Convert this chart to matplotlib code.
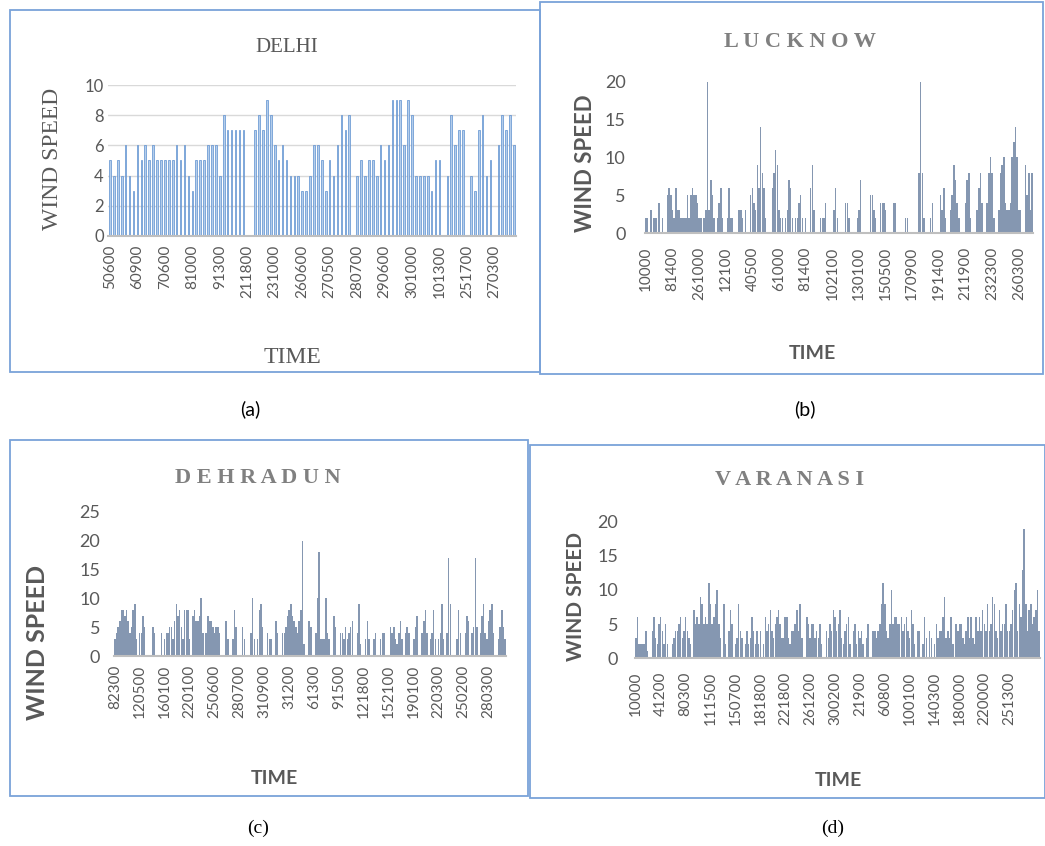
import matplotlib
matplotlib.use("Agg")
import matplotlib.pyplot as plt
from matplotlib.patches import Rectangle
import numpy as np

# hourly wind speed per station (gaps = no reading)
delhi_speed = [5, 4, 5, 4, 6, 4, 3, 6, 5, 6, 5, 6, 5, 5, 5, 5, 5, 6, 5, 6,
               4, 3, 5, 5, 5, 6, 6, 6, 4, 8, 7, 7, 7, 7, 7, 0, 0, 7, 8, 7,
               9, 8, 6, 5, 6, 5, 4, 4, 4, 3, 3, 4, 6, 6, 5, 3, 5, 4, 6, 8,
               7, 8, 0, 4, 5, 4, 5, 5, 4, 6, 5, 6, 9, 9, 9, 6, 9, 8, 4, 4,
               4, 4, 3, 5, 5, 0, 4, 8, 6, 7, 7, 0, 4, 3, 7, 8, 4, 5, 0, 6,
               8, 7, 8, 6]
delhi_ticks = ["50600", "60900", "70600", "81000", "91300", "211800", "231000",
               "260600", "270500", "280700", "290600", "301000", "101300",
               "251700", "270300"]

lucknow_speed = [2, 2, 0, 3, 0, 2, 2, 0, 4, 0, 2, 0, 0, 5, 6, 5, 3, 2, 6, 3,
                 3, 2, 2, 2, 2, 5, 2, 5, 6, 5, 5, 4, 2, 2, 0, 2, 3, 20, 3, 7,
                 5, 2, 0, 2, 4, 6, 2, 0, 0, 2, 6, 2, 2, 0, 0, 0, 3, 3, 2, 0,
                 3, 0, 0, 5, 6, 4, 3, 9, 6, 14, 8, 6, 2, 0, 0, 0, 6, 8, 11, 9,
                 3, 2, 2, 0, 2, 3, 7, 6, 2, 0, 2, 2, 4, 5, 2, 0, 2, 0, 0, 6,
                 9, 3, 0, 0, 0, 2, 2, 2, 4, 0, 0, 0, 0, 3, 6, 2, 0, 0, 0, 0,
                 4, 4, 2, 0, 0, 0, 0, 2, 3, 7, 0, 0, 0, 0, 0, 5, 5, 3, 2, 0,
                 0, 4, 4, 4, 3, 0, 0, 0, 0, 4, 4, 0, 0, 0, 0, 0, 2, 2, 0, 0,
                 0, 0, 0, 0, 8, 20, 8, 2, 0, 0, 0, 2, 4, 0, 0, 0, 0, 5, 3, 6,
                 2, 0, 0, 3, 5, 9, 7, 4, 2, 0, 0, 0, 4, 7, 8, 2, 0, 0, 0, 3,
                 6, 8, 4, 0, 0, 4, 8, 10, 8, 2, 0, 0, 3, 8, 9, 10, 4, 3, 3, 4,
                 10, 12, 14, 10, 3, 3, 0, 0, 9, 5, 8, 3, 8]
lucknow_ticks = ["10000", "81400", "261000", "12100", "40500", "61000", "81400",
                 "102100", "130100", "150500", "170900", "191400", "211900",
                 "232300", "260300"]

dehradun_speed = [3, 4, 5, 6, 8, 8, 7, 8, 6, 4, 5, 8, 9, 3, 0, 4, 4, 7, 5, 0,
                  0, 0, 0, 5, 4, 0, 0, 0, 4, 0, 3, 4, 4, 5, 5, 3, 6, 9, 7, 8,
                  5, 3, 8, 8, 8, 3, 0, 7, 8, 6, 6, 7, 10, 4, 0, 4, 7, 6, 6, 5,
                  4, 5, 5, 4, 0, 0, 0, 6, 3, 0, 0, 3, 8, 5, 0, 0, 0, 5, 3, 0,
                  0, 0, 4, 10, 3, 0, 3, 8, 9, 5, 0, 0, 4, 3, 3, 0, 0, 6, 4, 0,
                  0, 4, 4, 5, 7, 8, 9, 7, 6, 5, 4, 6, 8, 20, 2, 0, 0, 6, 5, 0,
                  0, 4, 10, 18, 3, 3, 3, 10, 4, 3, 0, 0, 7, 5, 0, 0, 4, 4, 3, 5,
                  3, 4, 5, 6, 0, 0, 4, 9, 2, 0, 0, 3, 6, 3, 0, 0, 3, 4, 0, 0,
                  3, 4, 4, 0, 0, 0, 5, 4, 5, 3, 2, 4, 6, 3, 0, 4, 5, 4, 0, 0,
                  3, 5, 7, 0, 0, 4, 6, 8, 4, 0, 3, 4, 8, 3, 0, 3, 4, 9, 3, 0,
                  4, 17, 9, 0, 0, 0, 3, 8, 4, 0, 0, 4, 7, 6, 0, 4, 5, 17, 5, 0,
                  4, 7, 9, 4, 3, 6, 8, 9, 4, 0, 0, 3, 5, 8, 5, 3]
dehradun_ticks = ["82300", "120500", "160100", "220100", "250600", "280700",
                  "310900", "31200", "61300", "91500", "121800", "152100",
                  "190100", "220300", "250200", "280300"]

varanasi_speed = [3, 6, 2, 2, 2, 2, 4, 1, 0, 0, 4, 6, 3, 2, 5, 6, 4, 2, 5, 2,
                  0, 0, 2, 3, 4, 4, 5, 6, 3, 4, 6, 4, 3, 2, 0, 7, 5, 6, 5, 9,
                  8, 5, 6, 5, 11, 8, 5, 6, 8, 10, 5, 3, 0, 8, 2, 0, 4, 7, 5, 0,
                  2, 3, 8, 4, 3, 0, 2, 4, 2, 3, 6, 4, 2, 4, 2, 4, 0, 2, 6, 4,
                  5, 7, 4, 3, 5, 6, 7, 5, 3, 3, 6, 6, 3, 2, 4, 4, 5, 7, 4, 8,
                  3, 0, 0, 6, 5, 3, 5, 5, 3, 4, 3, 5, 2, 0, 0, 4, 3, 5, 4, 7,
                  6, 4, 5, 7, 3, 2, 4, 5, 6, 2, 0, 4, 5, 2, 4, 3, 4, 2, 0, 3,
                  5, 0, 0, 4, 4, 3, 4, 5, 8, 11, 8, 4, 3, 5, 10, 5, 6, 6, 5, 5,
                  6, 4, 5, 6, 4, 3, 7, 5, 2, 0, 4, 4, 0, 2, 6, 3, 0, 4, 3, 0,
                  2, 5, 3, 4, 4, 6, 9, 3, 4, 3, 6, 2, 0, 5, 4, 5, 5, 3, 2, 4,
                  6, 3, 6, 3, 2, 6, 4, 6, 4, 7, 5, 4, 8, 4, 5, 9, 8, 4, 3, 7,
                  4, 5, 5, 8, 4, 4, 5, 7, 10, 11, 4, 8, 6, 13, 19, 8, 4, 7, 8, 5,
                  6, 7, 10, 4]
varanasi_ticks = ["10000", "41200", "80300", "111500", "150700", "181800",
                  "221800", "261200", "300200", "21900", "60800", "100100",
                  "140300", "180000", "220000", "251300"]

SERIF = "Liberation Serif"
SANS = "Lato"
W, H = 1045, 846
GRAY = "#595959"
SLATE = "#8597b1"


def rect(x0, y0, x1, y1):
    # pixel box (origin top-left) -> figure fraction [l, b, w, h]
    return [x0 / W, 1 - y1 / H, (x1 - x0) / W, (y1 - y0) / H]


def station(fig, box, speed, ticks, step, ymax, ystep, color, edge, width,
            tick_size, xpad, ypad, grid=False):
    ax = fig.add_axes(rect(*box))
    x = np.arange(len(speed))
    ax.bar(x, speed, width=width, color=color, edgecolor=edge, linewidth=0.5)
    ax.set_xlim(-0.5, len(speed) - 0.5)
    ax.set_ylim(0, ymax)
    ax.set_yticks(np.arange(0, ymax + 1, ystep))
    ax.set_xticks(np.arange(len(ticks)) * step)
    ax.set_xticklabels(ticks, rotation=90, family=SANS, fontsize=11, color=GRAY)
    for t in ax.get_yticklabels():
        t.set_family(SANS)
        t.set_fontsize(tick_size)
        t.set_color(GRAY)
    ax.tick_params(axis="x", length=0, pad=xpad)
    ax.tick_params(axis="y", length=0, pad=ypad)
    for s in ["top", "right", "left"]:
        ax.spines[s].set_visible(False)
    ax.spines["bottom"].set_color("#bfbfbf")
    ax.spines["bottom"].set_linewidth(1.5)
    if grid:
        ax.yaxis.grid(True, color="#d9d9d9", linewidth=1)
        ax.set_axisbelow(True)
    return ax


fig = plt.figure(figsize=(W / 100, H / 100), dpi=100)

# frames round each panel
for x0, y0, x1, y1 in [(10, 10, 540, 372), (540, 2, 1043, 374),
                       (10, 440, 528, 796), (530, 445, 1045, 798)]:
    fig.patches.append(Rectangle((x0 / W, 1 - y1 / H), (x1 - x0) / W,
                                 (y1 - y0) / H, transform=fig.transFigure,
                                 fill=False, edgecolor="#7aa3d9", linewidth=1.3))

# (a) Delhi
station(fig, (108, 85, 516, 236), delhi_speed, delhi_ticks, 7, 10, 2,
        "#b4cdeb", "#5b8fd0", 0.42, 12, 6, 3, grid=True)
fig.text(287 / W, 1 - 48 / H, "DELHI", family=SERIF, fontsize=15, color=GRAY,
         ha="center", va="center")
fig.text(52 / W, 1 - 159 / H, "WIND SPEED", family=SERIF, fontsize=17,
         color=GRAY, rotation=90, ha="center", va="center")
fig.text(292 / W, 1 - 357 / H, "TIME", family=SERIF, fontsize=17, color=GRAY,
         ha="center", va="center")

# (b) Lucknow
station(fig, (645, 82, 1033, 233), lucknow_speed, lucknow_ticks, 16, 20, 5,
        SLATE, "none", 0.9, 13, 10, 14)
fig.text(800 / W, 1 - 42 / H, " ".join("LUCKNOW"), family=SERIF,
         fontsize=16, weight="bold", color="#808080", ha="center", va="center")
fig.text(585 / W, 1 - 163 / H, "WIND SPEED", family=SANS, fontsize=16,
         weight="bold", color=GRAY, rotation=90, ha="center", va="center")
fig.text(812 / W, 1 - 353 / H, "TIME", family=SANS, fontsize=14,
         weight="bold", color=GRAY, ha="center", va="center")

# (c) Dehradun
station(fig, (114, 512, 506, 656), dehradun_speed, dehradun_ticks, 15, 25, 5,
        SLATE, "none", 0.9, 13, 6, 10)
fig.text(258 / W, 1 - 478 / H, " ".join("DEHRADUN"), family=SERIF,
         fontsize=16, weight="bold", color="#808080", ha="center", va="center")
fig.text(38 / W, 1 - 642 / H, "WIND SPEED", family=SANS, fontsize=18,
         weight="bold", color=GRAY, rotation=90, ha="center", va="center")
fig.text(274 / W, 1 - 778 / H, "TIME", family=SANS, fontsize=14,
         weight="bold", color=GRAY, ha="center", va="center")

# (d) Varanasi
station(fig, (635, 522, 1040, 658), varanasi_speed, varanasi_ticks, 15, 20, 5,
        SLATE, "none", 0.9, 13, 10, 12)
fig.text(790 / W, 1 - 480 / H, " ".join("VARANASI"), family=SERIF,
         fontsize=16, weight="bold", color="#808080", ha="center", va="center")
fig.text(576 / W, 1 - 596 / H, "WIND SPEED", family=SANS, fontsize=15,
         weight="bold", color=GRAY, rotation=90, ha="center", va="center")
fig.text(838 / W, 1 - 780 / H, "TIME", family=SANS, fontsize=14,
         weight="bold", color=GRAY, ha="center", va="center")

# panel captions
fig.text(250 / W, 1 - 409 / H, "(a)", family=SANS, fontsize=14, ha="center", va="center")
fig.text(805 / W, 1 - 409 / H, "(b)", family=SANS, fontsize=14, ha="center", va="center")
fig.text(258 / W, 1 - 828 / H, "(c)", family=SERIF, fontsize=14, ha="center", va="center")
fig.text(833 / W, 1 - 828 / H, "(d)", family=SERIF, fontsize=14, ha="center", va="center")

fig.savefig("out.png", dpi=100)
